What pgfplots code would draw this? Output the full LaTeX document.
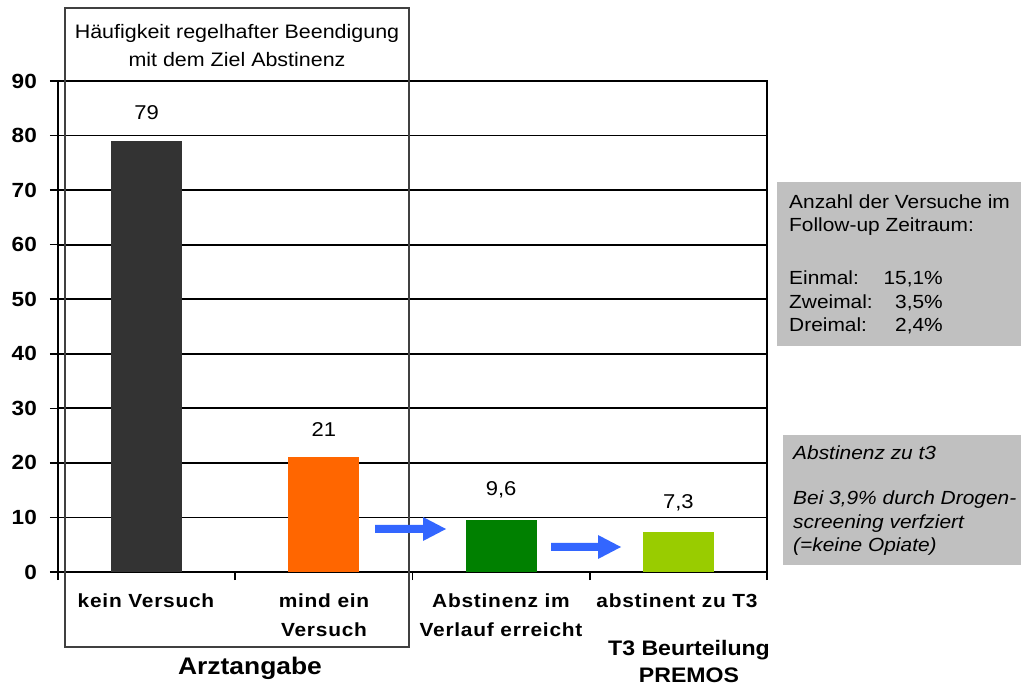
\documentclass[border=0pt]{standalone}
\usepackage{fontspec}
\setmainfont{Liberation Sans}[FakeStretch=1.1]
\usepackage{pgfplots}
\pgfplotsset{compat=1.18}

\definecolor{barDark}{HTML}{333333}
\definecolor{barOrange}{HTML}{FF6600}
\definecolor{barGreen}{HTML}{008000}
\definecolor{barLime}{HTML}{99CC00}
\definecolor{arrowBlue}{HTML}{3366FF}
\definecolor{noteGray}{HTML}{C0C0C0}
\definecolor{frameGray}{HTML}{404040}

\newcommand{\fs}[1]{\fontsize{#1}{1.2\dimexpr#1pt\relax}\selectfont}

\begin{document}
\begin{tikzpicture}[x=1pt,y=1pt]
\path[use as bounding box] (0,0) rectangle (1021,686);

\begin{axis}[
  at={(58pt,114pt)}, anchor=south west,
  width=709pt, height=491pt, scale only axis,
  xmin=0, xmax=4, ymin=0, ymax=90,
  xtick={0,1,2,3,4}, xticklabels={},
  ytick={0,10,...,90},
  ymajorgrids,
  grid style={black, line width=1.7pt},
  axis line style={black, line width=1.8pt},
  tick style={black, line width=1.6pt},
  tick align=outside, major tick length=8pt,
  xtick pos=left, ytick pos=left,
  /pgf/number format/assume math mode=true,
  /pgf/number format/use comma,
  yticklabel style={font=\fs{20.5}\bfseries, inner sep=0pt, xshift=-13pt},
  nodes near coords,
  every node near coord/.append style={font=\fs{20}, anchor=south, inner sep=0pt, yshift=21pt},
  clip=false,
]
\addplot[ybar, bar width=71pt, bar shift=0pt, fill=barDark, draw=none] coordinates {(0.5,79)};
\addplot[ybar, bar width=71pt, bar shift=0pt, fill=barOrange, draw=none] coordinates {(1.5,21)};
\addplot[ybar, bar width=71pt, bar shift=0pt, fill=barGreen, draw=none] coordinates {(2.5,9.6)};
\addplot[ybar, bar width=71pt, bar shift=0pt, fill=barLime, draw=none] coordinates {(3.5,7.3)};
\end{axis}

% frame around the physician-reported group
\draw[frameGray, line width=1.5pt] (65,39) rectangle (409,678);
\node[font=\fs{19.5}, anchor=base] at (237,647) {Häufigkeit regelhafter Beendigung};
\node[font=\fs{19.5}, anchor=base] at (237,619) {mit dem Ziel Abstinenz};

% category labels
\begin{scope}[every node/.style={font=\fs{19}\bfseries\addfontfeature{LetterSpace=4}, anchor=base, inner sep=0pt}]
\node at (146,78) {kein Versuch};
\node at (324,78) {mind ein};
\node at (324,49) {Versuch};
\node at (501,78) {Abstinenz im};
\node at (501,49) {Verlauf erreicht};
\node at (677,78) {abstinent zu T3};
\end{scope}

% group titles
\node[font=\fs{24}\bfseries, anchor=base] at (250,11) {Arztangabe};
\node[font=\fs{21}\bfseries, anchor=base] at (689,30) {T3 Beurteilung};
\node[font=\fs{21}\bfseries, anchor=base] at (689,3) {PREMOS};

% arrows between stages
\fill[arrowBlue] (375,153) -- (423,153) -- (423,145) -- (446,157) -- (423,169) -- (423,161) -- (375,161) -- cycle;
\fill[arrowBlue] (551,135) -- (598,135) -- (598,127) -- (621,139) -- (598,151) -- (598,143) -- (551,143) -- cycle;

% note boxes
\fill[noteGray] (777,340) rectangle (1021,504);
\begin{scope}[every node/.style={font=\fs{19}, inner sep=0pt}]
\node[anchor=base west] at (789,477) {Anzahl der Versuche im};
\node[anchor=base west] at (789,454) {Follow-up Zeitraum:};
\node[anchor=base west] at (789,401) {Einmal:};
\node[anchor=base west] at (789,377) {Zweimal:};
\node[anchor=base west] at (789,354) {Dreimal:};
\node[anchor=base east] at (943,401) {15,1\%};
\node[anchor=base east] at (943,377) {3,5\%};
\node[anchor=base east] at (943,354) {2,4\%};
\end{scope}

\fill[noteGray] (783,121) rectangle (1021,251);
\begin{scope}[every node/.style={font=\fs{19}\itshape, inner sep=0pt, anchor=base west}]
\node at (793,226) {Abstinenz zu t3};
\node at (793,181) {Bei 3,9\% durch Drogen-};
\node at (793,157) {screening verfziert};
\node at (793,134) {(=keine Opiate)};
\end{scope}
\end{tikzpicture}
\end{document}
